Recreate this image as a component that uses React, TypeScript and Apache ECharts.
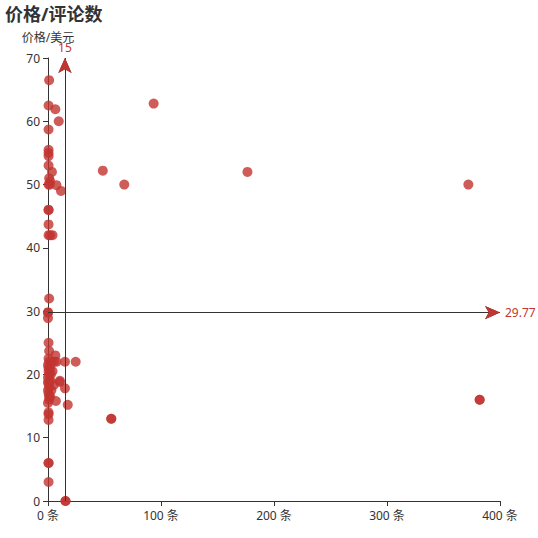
import React, { useEffect, useRef } from "react";
import * as echarts from "echarts";

const title = "价格/评论数";
const yName = "价格/美元";
const xSuffix = " 条";

// [评论数, 价格]
const pointsUpper: number[][] = [
  [1, 66.5], [0.5, 62.5], [6.5, 61.9], [9.5, 60], [0.5, 58.7],
  [0.5, 55.5], [0.5, 55], [0.5, 54.5], [0.5, 53], [3.5, 52],
  [1, 51], [2, 50.5], [0.5, 50], [1.5, 50], [7.5, 49.9], [11.5, 49],
  [0.5, 46], [0.5, 46], [0.5, 43.7], [0.5, 42], [2, 42], [4, 42],
];
const pointsFar: number[][] = [
  [93.5, 62.8], [48.5, 52.2], [67.5, 50], [176.5, 52], [372, 50],
  [382, 16], [382, 16], [56, 13], [56, 13],
];
const pointsMid: number[][] = [
  [1, 32], [0, 29.8], [0, 29.8], [0, 28.9], [0.5, 25], [1, 23.7], [6.5, 23],
  [7.5, 22], [15, 22], [24.5, 22], [10.5, 19], [10.5, 18.8], [15, 17.8],
  [17.5, 15.2], [7, 15.8], [15.5, 0], [15.5, 0],
];
const pointsCluster: number[][] = [
  [0.5, 22.5], [1, 22], [0, 21.5], [2, 21], [0.5, 20.5], [1, 20], [0, 19.5],
  [2, 19], [0.5, 18.5], [1, 18], [0, 17.5], [3, 17.5], [0.5, 17], [2, 16.5],
  [1, 16], [0, 15.5], [5, 18.3], [4, 20.5], [3, 22], [1.5, 19], [0.5, 21],
  [1, 16.5], [0, 18.8], [2.5, 20], [5.5, 22],
];
const pointsLow: number[][] = [
  [0.5, 14], [0.5, 13.7], [0.5, 12.8], [0.5, 6], [0.5, 6], [0.5, 3],
];

const avgX = 15;
const avgY = 29.77;

const xTicks = { min: 0, max: 400, interval: 100 };
const yTicks = { min: 0, max: 70, interval: 10 };

const RED = "#c23531";
const DARK = "#333";

export default function App() {
  const ref = useRef<HTMLDivElement>(null);
  useEffect(() => {
    if (!ref.current) return;
    const chart = echarts.init(ref.current, undefined, { renderer: "svg" });
    const data = [
      ...pointsUpper,
      ...pointsFar,
      ...pointsMid,
      ...pointsCluster,
      ...pointsLow,
    ];
    chart.setOption({
      animation: false,
      textStyle: { fontFamily: "'Noto Sans', 'Noto Sans CJK SC', sans-serif" },
      title: {
        text: title,
        left: 0,
        top: 0,
        textStyle: { fontSize: 18, fontWeight: "bold", color: DARK },
      },
      grid: { left: 48, right: 38, top: 58, bottom: 37 },
      xAxis: {
        type: "value",
        min: xTicks.min,
        max: xTicks.max,
        interval: xTicks.interval,
        splitLine: { show: false },
        axisLine: { lineStyle: { color: DARK } },
        axisTick: { lineStyle: { color: DARK } },
        axisLabel: { color: DARK, formatter: "{value}" + xSuffix, fontSize: 12 },
      },
      yAxis: {
        type: "value",
        name: yName,
        min: yTicks.min,
        max: yTicks.max,
        interval: yTicks.interval,
        splitLine: { show: false },
        axisLine: { show: true, lineStyle: { color: DARK } },
        axisTick: { show: true, lineStyle: { color: DARK } },
        axisLabel: { color: DARK, fontSize: 12 },
        nameTextStyle: { color: DARK, fontSize: 12 },
      },
      series: [
        {
          type: "scatter",
          symbolSize: 10,
          itemStyle: { color: RED, opacity: 0.8 },
          data,
          markLine: {
            silent: true,
            symbol: ["none", "arrow"],
            symbolSize: [10, 15],
            data: [
              {
                xAxis: avgX,
                symbol: "none",
                lineStyle: { color: DARK, width: 1, type: "solid" },
                label: { show: false },
              },
              {
                yAxis: avgY,
                symbol: "none",
                lineStyle: { color: DARK, width: 1, type: "solid" },
                label: { show: false },
              },
              {
                xAxis: avgX,
                lineStyle: { color: RED, width: 0, type: "solid" },
                label: { show: true, color: RED, fontSize: 12 },
              },
              {
                yAxis: avgY,
                lineStyle: { color: RED, width: 0, type: "solid" },
                label: { show: true, color: RED, fontSize: 12 },
              },
            ],
          },
        },
      ],
    });
    return () => chart.dispose();
  }, []);
  return <div ref={ref} style={{ width: 538, height: 538, position: "absolute", left: 0, top: 0 }} />;
}
